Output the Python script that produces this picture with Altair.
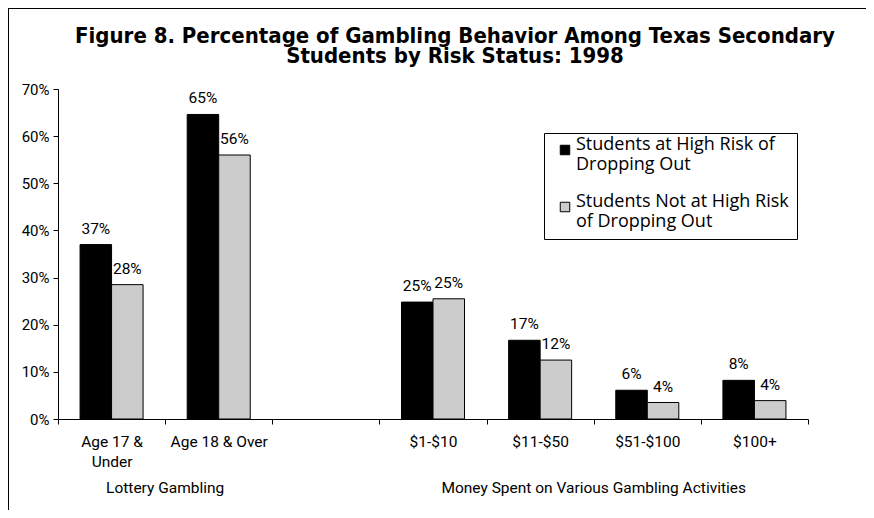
import altair as alt
import pandas as pd

categories = ["Age 17 &|Under", "Age 18 & Over", " ", "$1-$10", "$11-$50", "$51-$100", "$100+"]
series = ["Students at High Risk of Dropping Out", "Students Not at High Risk of Dropping Out"]
high_risk = [37.0, 64.6, None, 24.8, 16.7, 6.1, 8.2]
not_high = [28.5, 56.0, None, 25.5, 12.5, 3.5, 3.9]
high_labels = ["37%", "65%", "", "25%", "17%", "6%", "8%"]
not_labels = ["28%", "56%", "", "25%", "12%", "4%", "4%"]
groups = ["Lottery Gambling", "Money Spent on Various Gambling Activities"]
group_anchor = ["Age 17 &|Under", "$11-$50"]
title_lines = ["Figure 8. Percentage of Gambling Behavior Among Texas Secondary",
               "Students by Risk Status: 1998"]

rows = []
for c, h, n, hl, nl in zip(categories, high_risk, not_high, high_labels, not_labels):
    if h is not None:
        rows.append({"cat": c, "series": series[0], "value": h / 100, "label": hl})
    if n is not None:
        rows.append({"cat": c, "series": series[1], "value": n / 100, "label": nl})
df = pd.DataFrame(rows)
gdf = pd.DataFrame({"group": groups, "anchor": group_anchor})
tdf = pd.DataFrame({"t": [title_lines]})
frame = pd.DataFrame({"k": [0]})

W, H = 750, 330
FONT = "Roboto, Liberation Sans"
TFONT = "DejaVu Sans Condensed, DejaVu Sans"

xscale = alt.Scale(domain=categories, paddingInner=0, paddingOuter=0)
xenc = alt.X("cat:N", sort=categories, scale=xscale,
             axis=alt.Axis(title=None, labelAngle=0, labelExpr="split(datum.label, '|')",
                           tickBand="extent", labelFontSize=15.5, labelFont=FONT,
                           labelColor="black", labelPadding=10, labelLineHeight=20,
                           tickColor="black", domainColor="black", tickSize=5,
                           labelBaseline="top"))
offs = alt.XOffset("series:N", sort=series, scale=alt.Scale(domain=series, paddingOuter=0.7, paddingInner=0))
yenc = alt.Y("value:Q", scale=alt.Scale(domain=[0, 0.7], nice=False),
             axis=alt.Axis(title=None, format=".0%", values=[0, .1, .2, .3, .4, .5, .6, .7],
                           grid=False, labelFontSize=15, labelFont=FONT, labelColor="black",
                           tickColor="black", domainColor="black", tickSize=5, labelPadding=4))

legend_expr = ("datum.label == 'Students at High Risk of Dropping Out' ? "
               "['Students at High Risk of', 'Dropping Out'] : "
               "['Students Not at High Risk', 'of Dropping Out']")

bars = alt.Chart(df).mark_bar(stroke="black", strokeWidth=1).encode(
    x=xenc, xOffset=offs, y=yenc,
    color=alt.Color("series:N", sort=series,
                    scale=alt.Scale(domain=series, range=["#000000", "#cccccc"]),
                    legend=alt.Legend(title=None, orient="none", legendX=486, legendY=44,
                                      strokeColor="black", padding=8, fillColor="white",
                                      labelExpr=legend_expr, labelFontSize=18,
                                      labelFont="Open Sans, DejaVu Sans", labelColor="black",
                                      labelLimit=400, symbolType="square", symbolSize=90,
                                      symbolStrokeColor="black", symbolStrokeWidth=1,
                                      symbolOffset=4, labelOffset=2, rowPadding=19,
                                      labelBaseline="alphabetic")),
)

labels = alt.Chart(df).mark_text(baseline="alphabetic", dy=-11, fontSize=15.5, font=FONT, color="black").encode(
    x=alt.X("cat:N", sort=categories, scale=xscale), xOffset=offs, y="value:Q", text="label:N"
)

group_text = alt.Chart(gdf).mark_text(baseline="middle", fontSize=15.5, font=FONT, color="black").encode(
    x=alt.X("anchor:N", sort=categories, scale=xscale, bandPosition=1),
    y=alt.value(H + 69), text="group:N"
)

title = alt.Chart(tdf).mark_text(baseline="alphabetic", align="center", fontSize=22, fontWeight="bold",
                                 font=TFONT, lineHeight=20, color="black").encode(
    x=alt.value(397), y=alt.value(-46), text="t"
)

vline = alt.Chart(frame).mark_rule(color="black", strokeWidth=2).encode(
    x=alt.value(-50), y=alt.value(-82), y2=alt.value(H + 100))
hline = alt.Chart(frame).mark_rule(color="black", strokeWidth=2).encode(
    y=alt.value(-81), x=alt.value(-51), x2=alt.value(W + 70))

chart = alt.layer(vline, hline, bars, labels, group_text, title).properties(
    width=W, height=H,
    autosize=alt.AutoSizeParams(type="none"),
    padding={"left": 50, "top": 81, "right": 58, "bottom": 91},
).configure_view(stroke=None)

chart.save("out.html", embed_options={"renderer": "svg", "actions": False})
